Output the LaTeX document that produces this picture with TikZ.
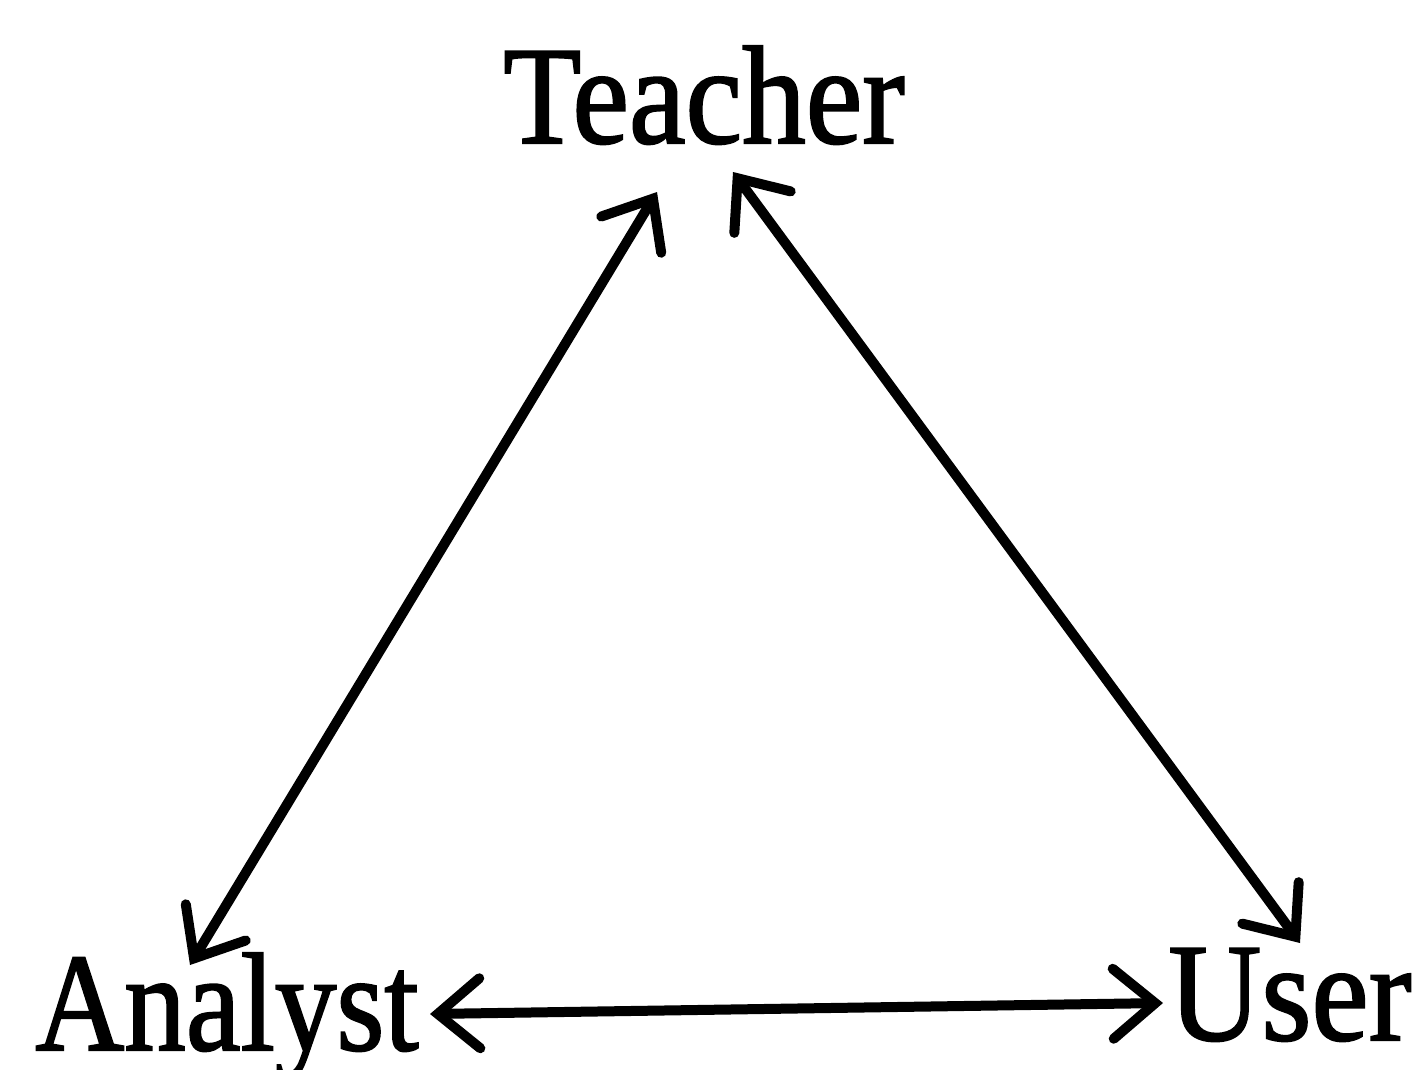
\documentclass[tikz,border=0pt]{standalone}
\usepackage{fontspec}
\setmainfont{Liberation Serif}
\newfontfamily\lblfont{Liberation Serif}[FakeBold=1.5]
\usetikzlibrary{arrows.meta}
\begin{document}
\begin{tikzpicture}[x=1pt,y=-1pt,
  lbl/.style={inner sep=0pt, anchor=base, font=\lblfont\fontsize{140}{150}\selectfont},
  tip/.tip={Straight Barb[length=42pt,width=70pt,line cap=round]},
  link/.style={line width=10pt, {tip}-{tip}}]
\useasboundingbox (0,0) rectangle (1427,1069);
\node[lbl] (T) at (704,143) {\scalebox{0.91}[1]{Teacher}};
\node[lbl] (A) at (227,1050) {\scalebox{0.88}[1]{Analyst}};
\node[lbl] (U) at (1290,1040) {\scalebox{0.92}[1]{User}};
\coordinate (tl) at (657,192);
\coordinate (tr) at (733,172);
\coordinate (at) at (190,965);
\coordinate (ar) at (430,1014);
\coordinate (ut) at (1300,943);
\coordinate (ul) at (1163,1003);
\draw[link] (at) -- (tl);
\draw[link] (tr) -- (ut);
\draw[link] (ar) -- (ul);
\end{tikzpicture}
\end{document}
